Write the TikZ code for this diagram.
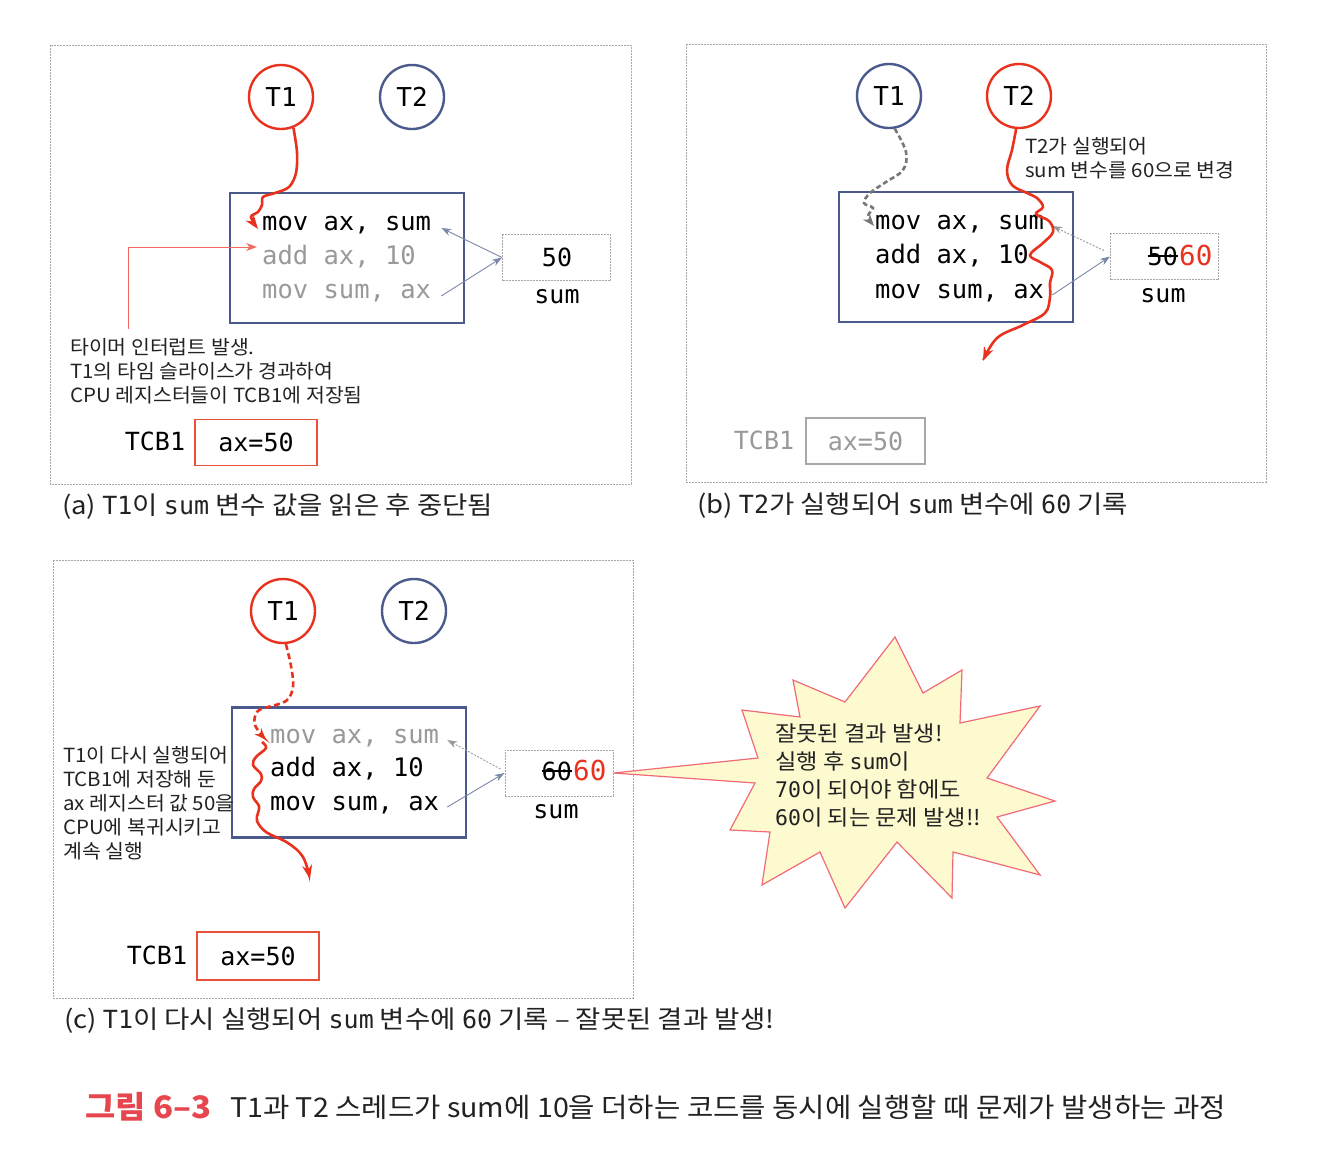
\documentclass[tikz,border=0pt]{standalone}
\usepackage{fontspec}
\setmainfont{Noto Sans CJK KR}
\newfontfamily\krf{Noto Sans CJK KR}
\newfontfamily\krn{Noto Sans CJK KR}[FakeStretch=1.05]
\newfontfamily\krc{Noto Sans CJK KR}[FakeStretch=1.1]
\newfontfamily\krs{Noto Sans CJK KR}[FakeStretch=1.08]
\newfontfamily\krg{Noto Sans CJK KR}[FakeStretch=1.06]
\newfontfamily\monof{DejaVu Sans Mono}
\usetikzlibrary{arrows.meta}
\definecolor{tred}{HTML}{E8321E}
\definecolor{tblue}{HTML}{4B5A8C}
\definecolor{cgray}{HTML}{999999}
\definecolor{pgray}{HTML}{A8A8A8}
\definecolor{lnk}{HTML}{7A88A8}
\definecolor{dgray}{HTML}{777777}
\definecolor{tboxred}{HTML}{E8503C}
\definecolor{annred}{HTML}{F06A60}
\definecolor{starfill}{HTML}{FDFAD0}
\definecolor{starline}{HTML}{F06A78}
\definecolor{capred}{HTML}{E8464E}
\definecolor{txt}{HTML}{222222}
\newcommand{\MyMono}[1]{{\monof #1}}
\begin{document}
\begin{tikzpicture}[x=1pt,y=-1pt,
  panel/.style={draw=pgray, line width=1pt, dash pattern=on 2pt off 1pt},
  thr/.style={circle, line width=2.4pt, minimum size=64pt, inner sep=0pt, font=\monof\fontsize{26}{26}\selectfont},
  redthr/.style={thr, draw=tred},
  bluethr/.style={thr, draw=tblue},
  codebox/.style={draw=tblue, line width=2.8pt, minimum width=234pt, minimum height=130pt, inner sep=0pt},
  codeln/.style={anchor=west, inner sep=0pt, text height=18pt, text depth=5pt, font=\monof\fontsize{25.5}{30}\selectfont},
  sumbox/.style={draw=pgray, line width=1pt, dash pattern=on 2pt off 1pt, minimum width=108pt, minimum height=46pt, inner sep=0pt},
  numtxt/.style={inner sep=0pt, font=\monof\fontsize{25}{30}\selectfont},
  bignum/.style={inner sep=0pt, font=\monof\fontsize{27.5}{30}\selectfont, text=tred},
  lbl/.style={inner sep=0pt, font=\monof\fontsize{25}{30}\selectfont},
  notetext/.style={anchor=west, inner sep=0pt, text=txt, font=\krn\fontsize{19.5}{24}\selectfont},
  captext/.style={anchor=west, inner sep=0pt, text=txt, font=\krc\fontsize{25}{28}\selectfont},
  tcbbox/.style={draw=tboxred, line width=1.8pt, minimum width=122pt, minimum height=46pt, inner sep=0pt, font=\monof\fontsize{25}{30}\selectfont},
  linkarrow/.style={draw=lnk, line width=0.9pt, -{Stealth[length=10pt,width=7pt]}},
  linkdash/.style={linkarrow, draw=cgray, dash pattern=on 2pt off 1.5pt},
  redpath/.style={draw=tred, line width=2.6pt, -{Stealth[length=14pt,width=10pt]}},
  startext/.style={anchor=west, inner sep=0pt, text=txt, font=\krs\fontsize{21.5}{28}\selectfont},
]
\useasboundingbox (0,0) rectangle (1344,1154);
\fill[white] (0,0) rectangle (1344,1154);

% ---------------- panel (a)
\draw[panel] (50,45) rectangle (631,484);
\node[redthr] (t1a) at (281,97) {T1};
\node[bluethr] (t2a) at (412,97) {T2};
\node[codebox] (cba) at (347,258) {};
\node[codeln] (c1a) at (262,224) {mov ax, sum};
\node[codeln, text=cgray] (c2a) at (262,258) {add ax, 10};
\node[codeln, text=cgray] (c3a) at (262,292) {mov sum, ax};
\node[sumbox] (sa) at (556.5,257.5) {};
\node[numtxt] (va) at (557,257) {50};
\node[lbl] (la) at (557,297) {sum};
\draw[linkarrow] (sa.west) -- ([xshift=10pt,yshift=-4pt]c1a.east);
\draw[linkarrow] ([xshift=10pt,yshift=-4pt]c3a.east) -- (sa.west);
\draw[redpath] plot[smooth, tension=0.55] coordinates {(t1a.-68) (297,152) (296,173) (289,187) (275,193) (263,197) (262,205) (258,212) (251,217) (258,229)};
\coordinate (annA) at (257,247);
\coordinate (annS) at (128,329);
\draw[annred, line width=1pt, -{Stealth[length=11pt,width=8pt]}] (annS) |- (annA);
\node[notetext] (na1) at (70,347) {타이머 인터럽트 발생.};
\node[notetext] (na2) at (70,371) {T1의 타임 슬라이스가 경과하여};
\node[notetext] (na3) at (70,395) {CPU 레지스터들이 TCB1에 저장됨};
\node[lbl] (tcbla) at (155,441) {TCB1};
\node[tcbbox] (tcba) at (256,442.5) {ax=50};
\node[captext] (capa) at (62,507) {(a) \MyMono{T1}이 \MyMono{sum} 변수 값을 읽은 후 중단됨};

% ---------------- panel (b)
\draw[panel] (686,44) rectangle (1266,482);
\node[bluethr] (t1b) at (889,96) {T1};
\node[redthr] (t2b) at (1019,96) {T2};
\node[codebox] (cbb) at (956,257) {};
\node[codeln] (c1b) at (875,223) {mov ax, sum};
\node[codeln] (c2b) at (875,257) {add ax, 10};
\node[codeln] (c3b) at (875,292) {mov sum, ax};
\node[sumbox] (sb) at (1164.5,256.5) {};
\node[numtxt, anchor=east] (vb1) at (1178,256) {50};
\draw[line width=1.5pt] (vb1.west) -- (vb1.east);
\node[bignum, anchor=west] (vb2) at (1179,255) {60};
\node[lbl] (lb) at (1163,296) {sum};
\draw[linkdash] ([xshift=-6pt,yshift=6pt]sb.west) -- ([xshift=8pt,yshift=-3pt]c1b.east);
\draw[linkarrow] ([xshift=8pt,yshift=-3pt]c3b.east) -- (sb.west);
\draw[dgray, line width=2.6pt, dash pattern=on 5pt off 3pt, -{Stealth[length=12pt,width=9pt]}] plot[smooth, tension=0.6] coordinates {(t1b.-80) (906,152) (903,170) (886,182) (870,193) (864,203) (873,208) (868,216) (874,226)};
\draw[redpath] plot[smooth, tension=0.6] coordinates {(t2b.-95) (1012,150) (1007,170) (1012,185) (1027,193) (1037,198) (1043,207) (1036,214) (1049,221) (1053,232) (1043,243) (1030,255) (1040,262) (1052,270) (1050,283) (1050,297) (1045,313) (1023,325) (997,338) (983,361)};
\node[notetext] (nb1) at (1025,146) {T2가 실행되어};
\node[notetext] (nb2) at (1025,170) {sum 변수를 60으로 변경};
\node[lbl, text=cgray] (tcblb) at (764,440) {TCB1};
\node[tcbbox, draw=pgray, line width=1.3pt, text=cgray, minimum width=119pt] (tcbb) at (865.5,441) {ax=50};
\node[captext] (capb) at (697,506) {(b) \MyMono{T2}가 실행되어 \MyMono{sum} 변수에 \MyMono{60} 기록};

% ---------------- panel (c)
\draw[panel] (53,560) rectangle (633,998);
\node[redthr] (t1c) at (283,611) {T1};
\node[bluethr] (t2c) at (414,611) {T2};
\node[codebox] (cbc) at (349,772.5) {};
\node[codeln, text=cgray] (c1c) at (270,737) {mov ax, sum};
\node[codeln] (c2c) at (270,770) {add ax, 10};
\node[codeln] (c3c) at (270,804) {mov sum, ax};
\node[sumbox] (sc) at (559,773) {};
\node[numtxt, anchor=east] (vc1) at (572,771) {60};
\draw[line width=1.5pt] (vc1.west) -- (vc1.east);
\node[bignum, anchor=west] (vc2) at (573,770) {60};
\node[lbl] (lc) at (556,812) {sum};
\draw[linkdash] ([xshift=-4pt,yshift=4pt]sc.west) -- ([xshift=8pt,yshift=-3pt]c1c.east);
\draw[linkarrow] ([xshift=8pt,yshift=-3pt]c3c.east) -- (sc.west);
\draw[tred, line width=2.6pt, dash pattern=on 6pt off 3.5pt, -{Stealth[length=12pt,width=9pt]}] plot[smooth, tension=0.6] coordinates {(t1c.-85) (291,666) (293,687) (286,701) (268,707) (257,712) (255,725) (266,740)};
\draw[redpath] plot[smooth, tension=0.6] coordinates {(262,742) (266,748) (256,757) (253,765) (261,774) (261,781) (254,789) (253,797) (259,806) (258,813) (257,821) (266,832) (288,843) (303,857) (310,879)};
\node[notetext] (nc1) at (63,755) {T1이 다시 실행되어};
\node[notetext] (nc2) at (63,779) {TCB1에 저장해 둔};
\node[notetext] (nc3) at (63,803) {ax 레지스터 값 50을};
\node[notetext] (nc4) at (63,827) {CPU에 복귀시키고};
\node[notetext] (nc5) at (63,851) {계속 실행};
\node[lbl] (tcblc) at (157,955) {TCB1};
\node[tcbbox, minimum height=48pt] (tcbc) at (258,956) {ax=50};
\node[captext] (capc) at (64,1021) {(c) \MyMono{T1}이 다시 실행되어 \MyMono{sum} 변수에 \MyMono{60} 기록 – 잘못된 결과 발생!};

% ---------------- star callout
\draw[starline, line width=1.2pt, fill=starfill, line join=miter]
  (sc.east) -- (758,758) -- (742,710) -- (800,717) -- (793,680) -- (845,702) -- (895,637)
  -- (923,693) -- (962,670) -- (960,723) -- (1040,706) -- (987,778) -- (1055,801)
  -- (997,817) -- (1040,875) -- (953,852) -- (952,898) -- (897,842) -- (845,908)
  -- (820,852) -- (762,885) -- (770,832) -- (730,830) -- (755,783) -- cycle;
\node[startext] (st1) at (775,733) {잘못된 결과 발생!};
\node[startext] (st2) at (775,761) {실행 후 \MyMono{sum}이};
\node[startext] (st3) at (775,789) {\MyMono{70}이 되어야 함에도};
\node[startext] (st4) at (775,817) {\MyMono{60}이 되는 문제 발생!!};

% ---------------- figure caption
\node[anchor=west, inner sep=0pt, text=capred, font=\krg\bfseries\fontsize{31}{34}\selectfont] (fig) at (85,1107) {그림 6–3};
\node[anchor=west, inner sep=0pt, text=txt, font=\krg\fontsize{27}{30}\selectfont] (figtxt) at (230,1107) {T1과 T2 스레드가 sum에 10을 더하는 코드를 동시에 실행할 때 문제가 발생하는 과정};
\end{tikzpicture}
\end{document}
